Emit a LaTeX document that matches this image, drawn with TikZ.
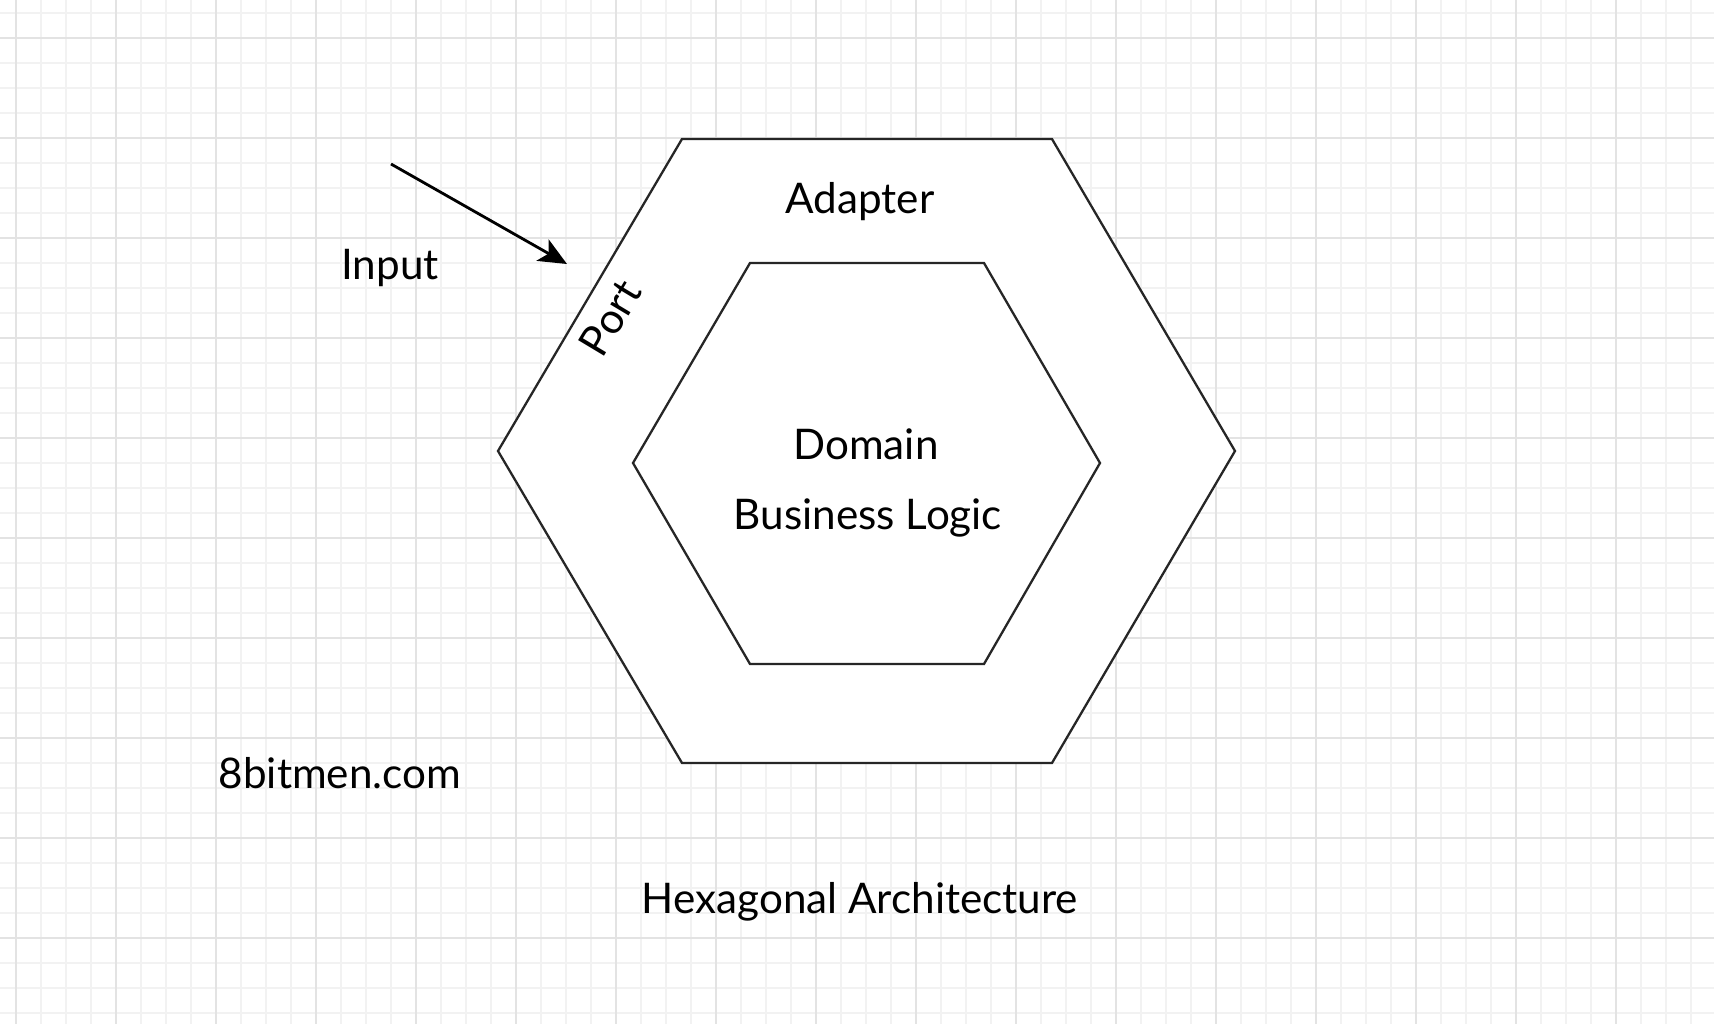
\documentclass[tikz,border=0pt]{standalone}
\usepackage{fontspec}
\setmainfont{Lato}
\usetikzlibrary{arrows.meta, positioning}

\begin{document}
\begin{tikzpicture}[x=0.01cm, y=-0.01cm]
    \tikzstyle{minorline} = [draw=black!5, line width=0.4pt]
    \tikzstyle{majorline} = [draw=black!11, line width=0.5pt]
    \tikzstyle{hexline} = [draw=black!85, line width=0.65pt, fill=white, line join=miter]
    \tikzstyle{notetext} = [font=\fontsize{12}{14}\selectfont, text=black, inner sep=1pt]
    \tikzstyle{arrow} = [line width=0.8pt, -{Stealth[length=8pt, width=7pt, inset=2pt]}]

    \useasboundingbox (0,0) rectangle (1714,1024);
    \fill[white] (0,0) rectangle (1714,1024);

    % grid paper
    \foreach \gx in {-9,16,...,1714} \draw[minorline] (\gx,0) -- (\gx,1024);
    \foreach \gy in {13,38,...,1024} \draw[minorline] (0,\gy) -- (1714,\gy);
    \foreach \gx in {16,116,...,1714} \draw[majorline] (\gx,0) -- (\gx,1024);
    \foreach \gy in {38,138,...,1024} \draw[majorline] (0,\gy) -- (1714,\gy);

    % outer hexagon (adapter)
    \draw[hexline] (682,139) -- (1052,139) -- (1235,451) -- (1052,763) -- (682,763) -- (498,451) -- cycle;
    % inner hexagon (domain)
    \draw[hexline] (750,263) -- (984,263) -- (1100,463) -- (984,664) -- (750,664) -- (633,463) -- cycle;

    \node (adapter) [notetext] at (860,202) {Adapter};
    \node (domain) [notetext] at (866,444) {Domain};
    \node (logic) [notetext] at (868,518) {Business Logic};
    \node (port) [notetext, rotate=59] at (610,318) {Port};
    \node (input) [notetext] at (390,268) {Input};
    \node (site) [notetext] at (340,773) {8bitmen.com};
    \node (title) [notetext] at (860,902) {Hexagonal Architecture};

    \coordinate (inputstart) at (391,164);
    \coordinate (porttip) at (567,264);
    \draw [arrow] (inputstart) -- (porttip);
\end{tikzpicture}
\end{document}
